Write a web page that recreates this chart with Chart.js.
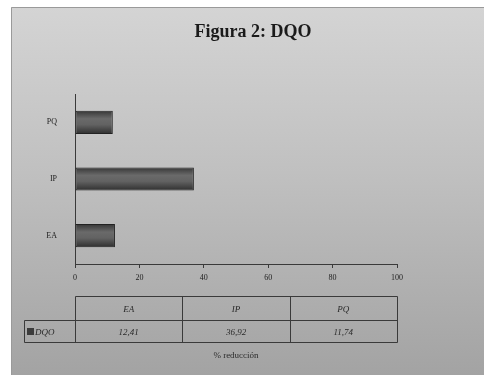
<!DOCTYPE html>
<html>
<head>
<meta charset="utf-8">
<script src="https://cdn.jsdelivr.net/npm/chart.js@4"></script>
<style>
  html, body { margin: 0; padding: 0; background: #ffffff; }
  #wrap { width: 484px; height: 375px; position: relative; }
  canvas { display: block; }
</style>
</head>
<body>
<div id="wrap"><canvas id="c" width="484" height="375"></canvas></div>
<script>
// Reduction of DQO per treatment
const categories = ['EA', 'IP', 'PQ'];
const dqoValues = [12.41, 36.92, 11.74];
const xTickValues = [0, 20, 40, 60, 80, 100];
const seriesName = 'DQO';
const titleText = 'Figura 2: DQO';
const axisTitleText = '% reducción';

const SERIF = '"Liberation Serif", "Times New Roman", serif';

function fmt(v) { return v.toFixed(2).replace('.', ','); }

// Grey gradient panel behind everything, title centred on the panel
const panelPlugin = {
  id: 'panel',
  beforeDraw(chart) {
    const ctx = chart.ctx;
    const W = chart.width, H = chart.height;
    ctx.save();
    ctx.fillStyle = '#ffffff';
    ctx.fillRect(0, 0, W, H);
    const g = ctx.createLinearGradient(0, 7, 0, H);
    g.addColorStop(0, '#d4d4d4');
    g.addColorStop(0.45, '#c0c0c0');
    g.addColorStop(1, '#a3a3a3');
    ctx.fillStyle = g;
    ctx.fillRect(11, 7, W - 11, H - 7);
    ctx.strokeStyle = '#9a9a9a';
    ctx.lineWidth = 1;
    ctx.beginPath();
    ctx.moveTo(11.5, H);
    ctx.lineTo(11.5, 7.5);
    ctx.lineTo(W, 7.5);
    ctx.stroke();

    ctx.fillStyle = '#1a1a1a';
    ctx.font = 'bold 18px ' + SERIF;
    ctx.textAlign = 'center';
    ctx.textBaseline = 'middle';
    ctx.fillText(titleText, 253, 32);
    ctx.restore();
  }
};

// Data table under the axis, with legend key and axis title
const tablePlugin = {
  id: 'dataTable',
  afterDraw(chart) {
    const ctx = chart.ctx;
    const xs = chart.scales.x;
    const left = xs.left, right = xs.right;
    const colW = (right - left) / categories.length;
    const top = 296.5, mid = 320.5, bottom = 342.5;
    const keyLeft = 24.5;
    ctx.save();
    ctx.strokeStyle = '#3a3a3a';
    ctx.lineWidth = 1;
    ctx.beginPath();
    ctx.moveTo(Math.round(left) + 0.5, top); ctx.lineTo(Math.round(right) + 0.5, top);
    ctx.moveTo(keyLeft, mid); ctx.lineTo(Math.round(right) + 0.5, mid);
    ctx.moveTo(keyLeft, bottom); ctx.lineTo(Math.round(right) + 0.5, bottom);
    ctx.moveTo(keyLeft, mid); ctx.lineTo(keyLeft, bottom);
    for (let i = 0; i <= categories.length; i++) {
      const x = Math.round(left + i * colW) + 0.5;
      ctx.moveTo(x, top); ctx.lineTo(x, bottom);
    }
    ctx.stroke();

    ctx.fillStyle = '#2a2a2a';
    ctx.font = 'italic 9px ' + SERIF;
    ctx.textAlign = 'center';
    ctx.textBaseline = 'middle';
    categories.forEach((c, i) => {
      const cx = left + (i + 0.5) * colW;
      ctx.fillText(c, cx, (top + mid) / 2 + 1);
      ctx.fillText(fmt(dqoValues[i]), cx, (mid + bottom) / 2 + 1);
    });

    // legend key
    ctx.fillStyle = '#3c3c3c';
    ctx.fillRect(27, 328, 7, 7);
    ctx.fillStyle = '#2a2a2a';
    ctx.textAlign = 'left';
    ctx.fillText(seriesName, 35, (mid + bottom) / 2 + 1);

    // axis title
    ctx.font = '9px ' + SERIF;
    ctx.textAlign = 'center';
    ctx.fillText(axisTitleText, (left + right) / 2, 356);
    ctx.restore();
  }
};

function barFill(context) {
  const chart = context.chart;
  const ys = chart.scales.y;
  if (!chart.chartArea || !ys) return '#555555';
  const ctx = chart.ctx;
  const yc = ys.getPixelForValue(context.dataIndex);
  const half = 12;
  const g = ctx.createLinearGradient(0, yc - half, 0, yc + half);
  g.addColorStop(0, '#333333');
  g.addColorStop(0.35, '#6a6a6a');
  g.addColorStop(0.6, '#626262');
  g.addColorStop(1, '#2c2c2c');
  return g;
}

new Chart(document.getElementById('c'), {
  type: 'bar',
  data: {
    labels: categories,
    datasets: [{
      label: seriesName,
      data: dqoValues,
      backgroundColor: barFill,
      borderColor: '#222222',
      borderWidth: 1,
      borderSkipped: false,
      categoryPercentage: 1,
      barPercentage: 0.41
    }]
  },
  options: {
    indexAxis: 'y',
    responsive: false,
    animation: false,
    devicePixelRatio: 1,
    layout: { padding: { left: 0, right: 87, top: 94, bottom: 91 } },
    plugins: {
      legend: { display: false },
      tooltip: { enabled: false },
      title: { display: false }
    },
    scales: {
      x: {
        type: 'linear',
        min: 0,
        max: 100,
        afterBuildTicks(scale) {
          scale.ticks = xTickValues.map(v => ({ value: v }));
        },
        afterFit(scale) { scale.height = 20; },
        grid: {
          drawOnChartArea: false,
          drawTicks: true,
          tickLength: 4,
          color: '#3a3a3a'
        },
        border: { display: true, color: '#3a3a3a', width: 1 },
        ticks: {
          color: '#222222',
          font: { family: SERIF, size: 8 },
          padding: 5,
          maxRotation: 0
        }
      },
      y: {
        reverse: true,
        afterFit(scale) { scale.width = 75; },
        grid: { display: false },
        border: { display: true, color: '#3a3a3a', width: 1 },
        ticks: {
          color: '#222222',
          font: { family: SERIF, size: 8 },
          padding: 10
        }
      }
    }
  },
  plugins: [panelPlugin, tablePlugin]
});
</script>
</body>
</html>
